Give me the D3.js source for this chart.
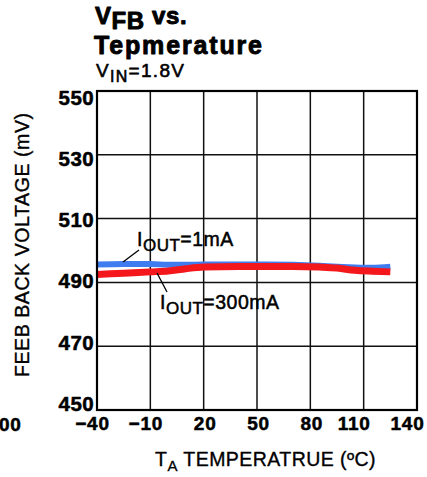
<!DOCTYPE html>
<html>
<head>
<meta charset="utf-8">
<script src="https://cdn.jsdelivr.net/npm/d3@7"></script>
<style>
  html, body { margin: 0; padding: 0; background: #fff; }
  svg { display: block; font-family: "Liberation Sans", Arial, sans-serif; }
</style>
</head>
<body>
<svg id="chart" width="427" height="477"></svg>
<script>
// Temperature sweep points (°C)
const temps = [-40, -25, -10, 0, 10, 20, 40, 55, 70, 85, 95, 105, 115, 125];
// Feedback voltage (mV) at IOUT = 1mA
const vfb1mA = [495.6, 495.8, 495.8, 495.5, 495.5, 495.6, 495.6, 495.6, 495.5, 495.2, 494.9, 494.7, 494.6, 494.9];
// Feedback voltage (mV) at IOUT = 300mA
const vfb300mA = [492.5, 492.9, 493.3, 493.6, 494.3, 494.8, 495.0, 495.0, 495.0, 494.8, 494.5, 493.8, 493.5, 493.3];
// Axis ticks
const xTicks = [-40, -10, 20, 50, 80, 110, 140];
const yTicks = [450, 470, 490, 510, 530, 550];

const svg = d3.select("#chart");
const plotL = 97, plotR = 417, plotT = 91, plotB = 410;

const x = d3.scaleLinear().domain([-40, 140]).range([plotL, plotR]);
const y = d3.scaleLinear().domain([450, 550]).range([plotB, plotT]);
// Tick labels sit slightly inside the frame ends
const yLabel = d3.scaleLinear().domain([450, 550]).range([plotB - 7, plotT + 6]);

// Grid
const grid = svg.append("g").attr("stroke", "#111").attr("stroke-width", 1.5);
grid.selectAll("line.v").data(xTicks.slice(1, -1)).join("line")
  .attr("class", "v")
  .attr("x1", d => x(d)).attr("x2", d => x(d))
  .attr("y1", plotT).attr("y2", plotB);
grid.selectAll("line.h").data(yTicks.slice(1, -1)).join("line")
  .attr("class", "h")
  .attr("x1", plotL).attr("x2", plotR)
  .attr("y1", d => y(d)).attr("y2", d => y(d));

// Curves
const line = d3.line().x(d => x(d[0])).y(d => y(d[1])).curve(d3.curveMonotoneX);
svg.append("path")
  .datum(d3.zip(temps, vfb1mA))
  .attr("d", line).attr("fill", "none")
  .attr("stroke", "#3f7cf0").attr("stroke-width", 6);
svg.append("path")
  .datum(d3.zip(temps, vfb300mA))
  .attr("d", line).attr("fill", "none")
  .attr("stroke", "#f4171b").attr("stroke-width", 7);

// Frame
svg.append("rect")
  .attr("x", plotL).attr("y", plotT)
  .attr("width", plotR - plotL).attr("height", plotB - plotT)
  .attr("fill", "none").attr("stroke", "#000").attr("stroke-width", 2.2);

// Heavy text helper: bold face thickened with a thin outline
function heavy(sel, w) {
  return sel.attr("fill", "#000").attr("stroke", "#000").attr("stroke-width", w)
    .attr("stroke-linejoin", "round");
}

// Axes (labels only; frame drawn above)
const xNudge = v => (v >= 100 ? -10 : v < 0 ? -5 : 1);
const xAxis = svg.append("g").attr("transform", `translate(0,${plotB})`)
  .call(d3.axisBottom(x).tickValues(xTicks).tickSize(0).tickPadding(7));
const yAxis = svg.append("g").attr("transform", `translate(${plotL},0)`)
  .call(d3.axisLeft(yLabel).tickValues(yTicks).tickSize(0).tickPadding(3));
[xAxis, yAxis].forEach(a => {
  a.select(".domain").remove();
  a.selectAll("text")
    .attr("font-family", "'Liberation Sans', Arial, sans-serif")
    .attr("font-weight", "bold");
  heavy(a.selectAll("text"), 0.5);
});
xAxis.selectAll("text").attr("font-size", 19).attr("letter-spacing", 0.8)
  .attr("dx", d => xNudge(d));
yAxis.selectAll("text").attr("font-size", 20.5).attr("letter-spacing", 0.4)
  .attr("dy", "0.36em");

// Leftover clipped tick label at the far left
heavy(svg.append("text").attr("x", -1).attr("y", 431)
  .attr("font-size", 19).attr("letter-spacing", 0.8).attr("font-weight", "bold").text("00"), 0.5);

// Title
const title = heavy(svg.append("text").attr("x", 95).attr("y", 24)
  .attr("font-size", 24).attr("font-weight", "bold").attr("letter-spacing", 0.6), 0.9);
title.append("tspan").text("V");
title.append("tspan").attr("dy", 5).text("FB");
title.append("tspan").attr("dy", -5).text(" vs.");
heavy(svg.append("text").attr("x", 94).attr("y", 54)
  .attr("font-size", 25).attr("font-weight", "bold")
  .attr("textLength", 168).attr("lengthAdjust", "spacing").text("Tepmerature"), 0.9);
const sub = heavy(svg.append("text").attr("x", 96).attr("y", 77).attr("font-size", 19)
  .attr("letter-spacing", 1.3), 0.6);
sub.append("tspan").text("V");
sub.append("tspan").attr("font-size", 16).attr("dy", 5).text("IN");
sub.append("tspan").attr("dy", -5).text("=1.8V");

// Axis titles
heavy(svg.append("text")
  .attr("transform", "translate(29,245) rotate(-90)")
  .attr("text-anchor", "middle").attr("font-size", 19.5)
  .attr("textLength", 264).attr("lengthAdjust", "spacing")
  .text("FEEB BACK VOLTAGE (mV)"), 0.35);
const xt = heavy(svg.append("text").attr("x", 155).attr("y", 466).attr("font-size", 19.5)
  .attr("letter-spacing", 0.45), 0.35);
xt.append("tspan").text("T");
xt.append("tspan").attr("font-size", 15).attr("dy", 5).text("A");
xt.append("tspan").attr("dy", -5).text(" TEMPERATRUE (ºC)");

// Series annotations
function note(tx, ty, text, lx1, ly1, lx2, ly2) {
  svg.append("line").attr("x1", lx1).attr("y1", ly1).attr("x2", lx2).attr("y2", ly2)
    .attr("stroke", "#000").attr("stroke-width", 1.3);
  const t = heavy(svg.append("text").attr("x", tx).attr("y", ty)
    .attr("font-size", 19.5).attr("letter-spacing", 0.5), 0.5);
  t.append("tspan").text("I");
  t.append("tspan").attr("font-size", 17).attr("dy", 5).text("OUT");
  t.append("tspan").attr("dy", -5).text(text);
}
note(137, 246, "=1mA", 123, 262, 139, 250);
note(160, 309, "=300mA", 157, 273, 167, 292);
</script>
</body>
</html>
